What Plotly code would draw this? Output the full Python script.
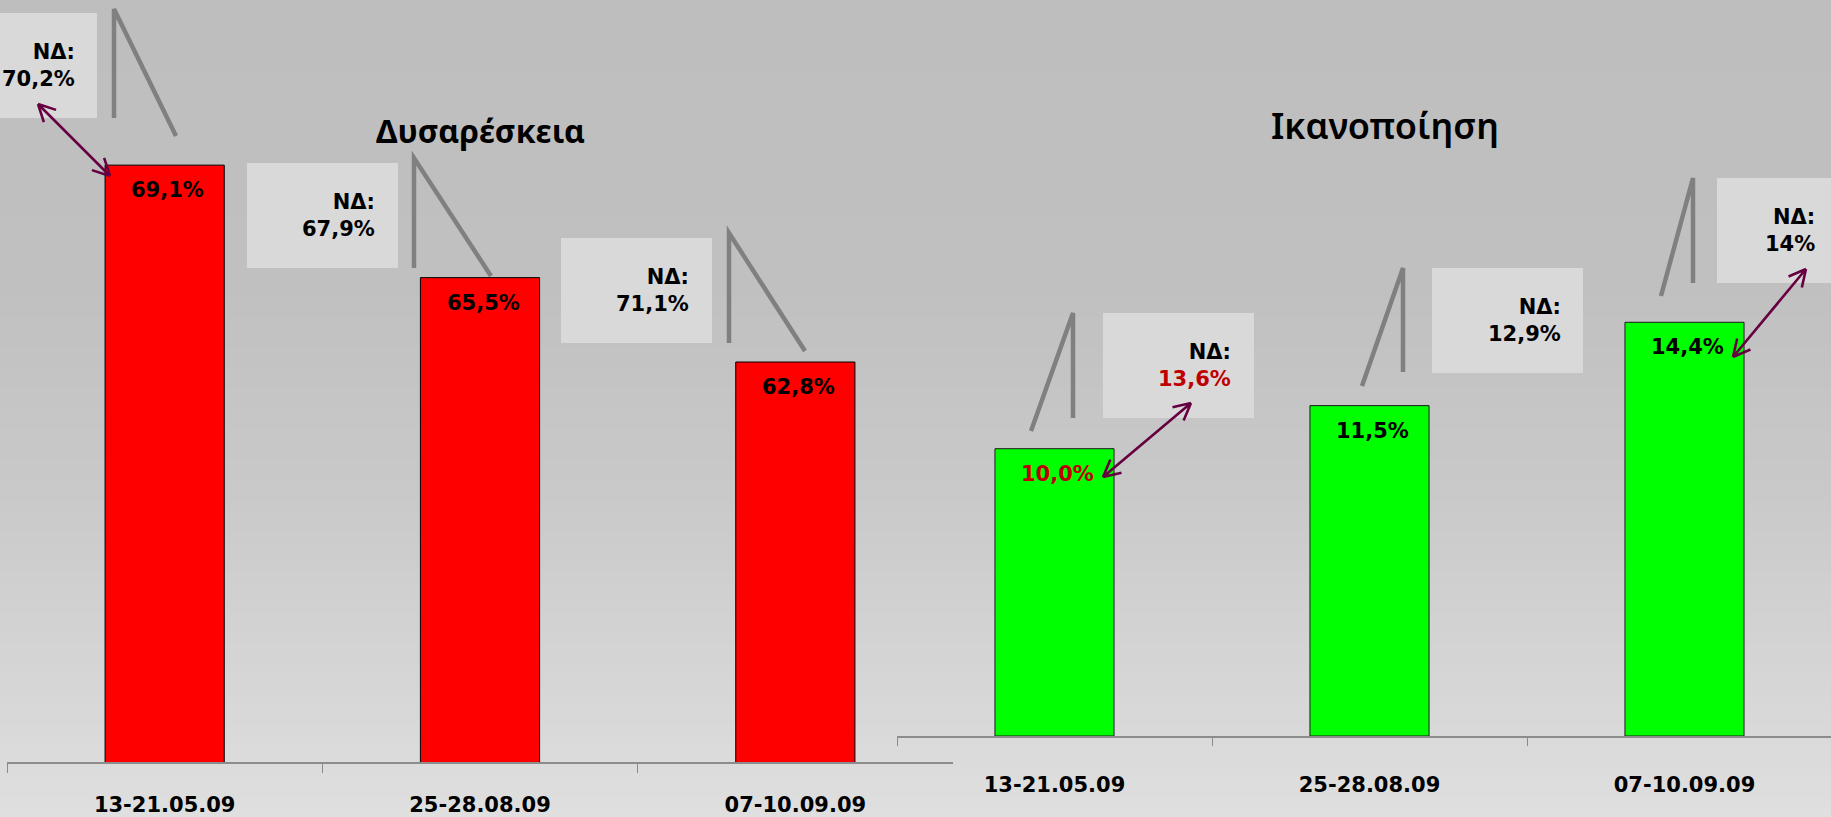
import numpy as np
import plotly.graph_objects as go

W, H = 1831, 817

# ---------------- data ----------------
periods = ["13-21.05.09", "25-28.08.09", "07-10.09.09"]
dissatisfaction = [69.1, 65.5, 62.8]
satisfaction = [10.0, 11.5, 14.4]
nd_dissatisfaction = [70.2, 67.9, 71.1]
nd_satisfaction = [13.6, 12.9, 14.0]
dis_label_colors = ["#000000", "#000000", "#000000"]
sat_label_colors = ["#c00000", "#000000", "#000000"]
nd_dis_colors = ["#000000", "#000000", "#000000"]
nd_sat_colors = ["#c00000", "#000000", "#000000"]
title_dis = "Δυσαρέσκεια"
title_sat = "Ικανοποίηση"

FONT = "Noto Sans"
NUMFONT = "DejaVu Sans"


def pct1(v):
    return f"{v:.1f}".replace(".", ",") + "%"


def pctg(v):
    return f"{v:g}".replace(".", ",") + "%"


def px(x):
    return x / W


def py(y):
    return 1 - y / H


fig = go.Figure()
fig.add_trace(go.Bar(x=periods, y=dissatisfaction, xaxis="x", yaxis="y",
                     marker=dict(color="#ff0000", line=dict(color="#000000", width=1)),
                     hoverinfo="x+y", showlegend=False))
fig.add_trace(go.Bar(x=periods, y=satisfaction, xaxis="x2", yaxis="y2",
                     marker=dict(color="#00ff00", line=dict(color="#1a1a1a", width=1)),
                     hoverinfo="x+y", showlegend=False))

shapes = []
annotations = []

# ---- background gradient (bands) ----
stops_pos = [0.0, 0.35, 0.6, 1.0]
stops_val = [190, 192, 201, 223]
nb = 80
for i in range(nb):
    t = (i + 0.5) / nb
    v = int(round(np.interp(t, stops_pos, stops_val)))
    shapes.append(dict(type="rect", xref="paper", yref="paper", layer="below",
                       x0=0, x1=1, y0=1 - i / nb, y1=1 - (i + 1) / nb - 0.002,
                       fillcolor=f"rgb({v},{v},{v})", line=dict(width=0)))

# ---- bar value labels ----
for xs, ys, cols, xa, ya in ((periods, dissatisfaction, dis_label_colors, "x", "y"),
                              (periods, satisfaction, sat_label_colors, "x2", "y2")):
    for c, v, col in zip(xs, ys, cols):
        annotations.append(dict(x=c, y=v, xref=xa, yref=ya, text=pct1(v), showarrow=False,
                                xanchor="center", yanchor="top", xshift=3, yshift=-11,
                                font=dict(family=NUMFONT, size=21, color=col, weight="bold")))

# ---- "ΝΔ" callout boxes: (left, top, right, text right edge) ----
BH = 105
boxes_dis = [(-54, 13, 97, 77), (247, 163, 398, 377), (561, 238, 712, 691)]
boxes_sat = [(1103, 313, 1254, 1233), (1432, 268, 1583, 1563), (1717, 178, 1868, 1817)]
for boxes, vals, cols in ((boxes_dis, nd_dissatisfaction, nd_dis_colors),
                          (boxes_sat, nd_satisfaction, nd_sat_colors)):
    for (bx0, by, bx1, tx), v, col in zip(boxes, vals, cols):
        shapes.append(dict(type="rect", xref="paper", yref="paper", layer="above",
                           x0=px(bx0), x1=px(bx1), y0=py(by), y1=py(by + BH),
                           fillcolor="#d9d9d9", line=dict(width=0)))
        annotations.append(dict(x=px(tx), y=py(by + BH / 2), xref="paper", yref="paper",
                                xanchor="right", yanchor="middle", align="right", showarrow=False,
                                text=f"ΝΔ:<br><span style='color:{col}'>{pctg(v)}</span>",
                                font=dict(family=NUMFONT, size=21, color="#000000", weight="bold")))

# ---- gray leader lines ----
leaders = [((114, 118), (114, 9), (176, 136)),
           ((414, 268), (414, 158), (491, 276)),
           ((729, 343), (729, 233), (805, 351)),
           ((1073, 418), (1073, 313), (1031, 431)),
           ((1403, 372), (1403, 268), (1362, 386)),
           ((1693, 283), (1693, 178), (1661, 296))]
for a, b, c in leaders:
    path = f"M {px(a[0])},{py(a[1])} L {px(b[0])},{py(b[1])} L {px(c[0])},{py(c[1])}"
    shapes.append(dict(type="path", xref="paper", yref="paper", layer="above", path=path,
                       line=dict(color="#808080", width=4.5)))


# ---- double-headed arrows ----
def rot(v, a):
    return np.array([v[0] * np.cos(a) - v[1] * np.sin(a), v[0] * np.sin(a) + v[1] * np.cos(a)])


def arrow_path(p0, p1, arm=19, ang=np.deg2rad(27)):
    p0 = np.array(p0, float)
    p1 = np.array(p1, float)
    d = (p1 - p0) / np.linalg.norm(p1 - p0)
    segs = [(p0, p1)]
    for tip, dv in ((p0, d), (p1, -d)):
        for s in (ang, -ang):
            segs.append((tip, tip + arm * rot(dv, s)))
    return " ".join(f"M {px(a[0])},{py(a[1])} L {px(b[0])},{py(b[1])}" for a, b in segs)


arrows = [((38, 104), (110, 176)),
          ((1191, 403), (1103, 477)),
          ((1806, 269), (1733, 357))]
for p0, p1 in arrows:
    shapes.append(dict(type="path", xref="paper", yref="paper", layer="above",
                       path=arrow_path(p0, p1), line=dict(color="#660040", width=2.6)))

# ---- titles ----
annotations.append(dict(x=px(480), y=py(130), xref="paper", yref="paper", text=title_dis,
                        showarrow=False, xanchor="center", yanchor="middle",
                        font=dict(family=FONT, size=32, color="#000000", weight="bold")))
annotations.append(dict(x=px(1385), y=py(125), xref="paper", yref="paper", text=title_sat,
                        showarrow=False, xanchor="center", yanchor="middle",
                        font=dict(family=FONT, size=36, color="#000000", weight=600)))

axis_common = dict(type="category", showgrid=False, zeroline=False, showline=True,
                   linecolor="#8c8c8c", linewidth=2, ticks="outside", tickson="boundaries",
                   tickcolor="#8c8c8c", tickwidth=1,
                   tickfont=dict(family=NUMFONT, size=21, color="#000000", weight="bold"),
                   fixedrange=True)

fig.update_layout(
    width=W, height=H,
    margin=dict(l=0, r=0, t=0, b=0),
    paper_bgcolor="#c8c8c8", plot_bgcolor="rgba(0,0,0,0)",
    bargap=0.622,
    showlegend=False,
    xaxis=dict(domain=[px(7), px(953)], range=[-0.5, 2.5], anchor="y",
               ticklen=9, ticklabelstandoff=23, **axis_common),
    yaxis=dict(domain=[py(762), py(12)], range=[50, 74], visible=False, anchor="x",
               fixedrange=True),
    xaxis2=dict(domain=[px(897), 1], range=[-0.5, -0.5 + (W - 897) / 315.0], anchor="y2",
                ticklen=8, ticklabelstandoff=29, **axis_common),
    yaxis2=dict(domain=[py(736), py(18)], range=[0, (736 - 18) / 28.73], visible=False,
                anchor="x2", fixedrange=True),
    shapes=shapes,
    annotations=annotations,
)

fig.write_html("out.html", config={"displayModeBar": False},
               post_script="document.body.style.margin='0px';"
                           "document.body.style.overflow='hidden';")
